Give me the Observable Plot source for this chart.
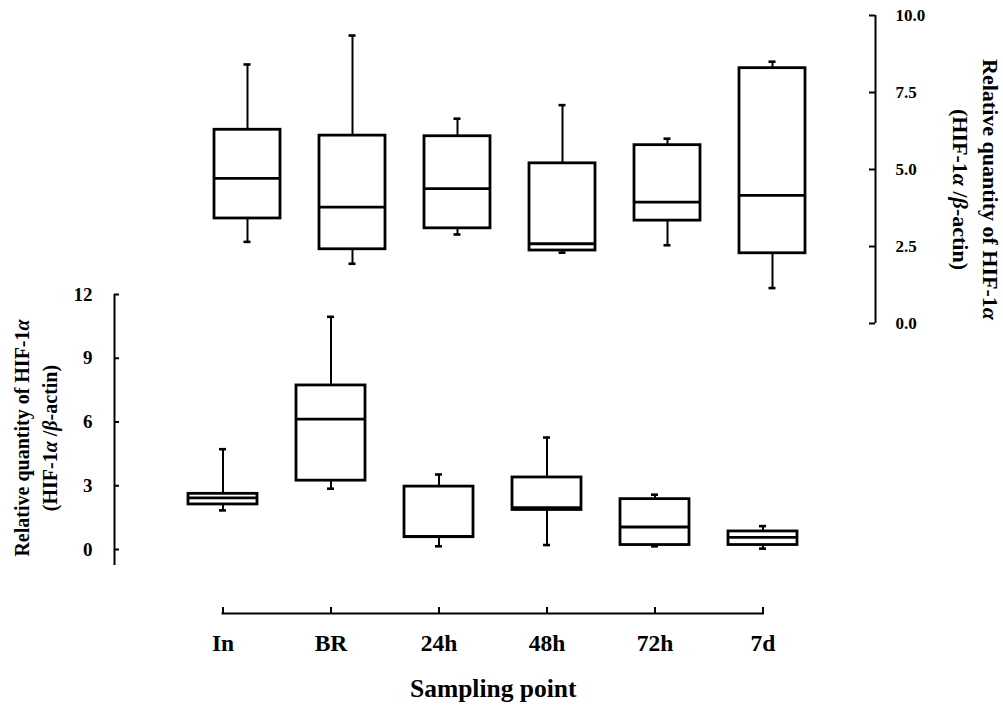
<!DOCTYPE html>
<html><head><meta charset="utf-8">
<script src="https://cdn.jsdelivr.net/npm/d3@7"></script>
<script src="https://cdn.jsdelivr.net/npm/@observablehq/plot@0.6"></script>
<style>
html,body{margin:0;padding:0;background:#fff;overflow:hidden}
#chart{position:relative;width:1003px;height:706px;overflow:hidden;background:#fff}
#chart svg{position:absolute;left:0;top:0;background:transparent !important;max-width:none !important}
</style></head><body><div id="chart"></div>
<script>
// ---- data ----
const categories = ["In", "BR", "24h", "48h", "72h", "7d"];
// upper set (right axis, 0–10)
const topMin = [2.65, 1.94, 2.89, 2.30, 2.54, 1.15];
const topQ1  = [3.41, 2.41, 3.09, 2.37, 3.34, 2.28];
const topMed = [4.71, 3.78, 4.38, 2.59, 3.94, 4.16];
const topQ3  = [6.29, 6.10, 6.08, 5.20, 5.79, 8.29];
const topMax = [8.41, 9.35, 6.65, 7.09, 6.00, 8.50];
// lower set (left axis, 0–12)
const botMin = [1.84, 2.86, 0.15, 0.21, 0.15, 0.04];
const botQ1  = [2.12, 3.24, 0.58, 1.86, 0.21, 0.21];
const botMed = [2.43, 6.14, 0.62, 1.97, 1.06, 0.57];
const botQ3  = [2.62, 7.72, 2.96, 3.39, 2.37, 0.85];
const botMax = [4.72, 10.95, 3.53, 5.27, 2.58, 1.10];
const leftTicks = [0, 3, 6, 9, 12];
const rightTicks = [0, 2.5, 5, 7.5, 10];
const leftTitle = "Relative quantity of HIF-1α\n(HIF-1α /β-actin)";
const rightTitle = "Relative quantity of HIF-1α\n(HIF-1α /β-actin)";
const xTitle = "Sampling point";

// ---- layout ----
const W = 1003, H = 706;
const FONT = '"Liberation Serif","Times New Roman",serif';
const baseStyle = {fontFamily: FONT, fontWeight: "bold", fontSize: "16px", color: "black"};

function rows(mins, q1s, meds, q3s, maxs) {
  return categories.map((c, i) => ({cat: c, min: mins[i], q1: q1s[i], med: meds[i], q3: q3s[i], max: maxs[i]}));
}
const topRows = rows(topMin, topQ1, topMed, topQ3, topMax);
const botRows = rows(botMin, botQ1, botMed, botQ3, botMax);

function boxMarks(data, capInset) {
  return [
    Plot.ruleX(data, {x: "cat", y1: "min", y2: "q1", strokeWidth: 2}),
    Plot.ruleX(data, {x: "cat", y1: "q3", y2: "max", strokeWidth: 2}),
    Plot.tickY(data, {x: "cat", y: "min", strokeWidth: 2.6, insetLeft: capInset, insetRight: capInset}),
    Plot.tickY(data, {x: "cat", y: "max", strokeWidth: 2.6, insetLeft: capInset, insetRight: capInset}),
    Plot.barY(data, {x: "cat", y1: "q1", y2: "q3", fill: "white", stroke: "black", strokeWidth: 2.8}),
    Plot.tickY(data, {x: "cat", y: "med", strokeWidth: 2.8})
  ];
}

const topX = {type: "band", domain: categories, range: [194.5, 824.5], paddingInner: 0.37, paddingOuter: 0.185, axis: null};
const botX = {type: "band", domain: categories, range: [167.25, 818.25], paddingInner: 0.36, paddingOuter: 0.18};

const pTop = Plot.plot({
  width: W, height: H, margin: 0, style: baseStyle,
  x: topX,
  y: {domain: [0, 10], range: [323, 15], axis: null},
  marks: boxMarks(topRows, 29.5)
});

const pBot = Plot.plot({
  width: W, height: H, margin: 0, style: baseStyle,
  x: {...botX, axis: null},
  y: {domain: [0, 12], range: [549, 294], axis: null},
  marks: boxMarks(botRows, 31)
});

const pXAxis = Plot.plot({
  width: W, height: H, marginTop: 607, marginBottom: H - 613, marginLeft: 221.5, marginRight: W - 764,
  style: {...baseStyle, fontSize: "23px"},
  x: botX,
  y: {domain: [0, 1], axis: null},
  marks: [
    Plot.ruleY([0], {strokeWidth: 2}),
    Plot.tickX(categories, {x: d => d, strokeWidth: 2}),
    Plot.axisX({tickSize: 0, tickPadding: 21, label: null, fontSize: 23.5}),
    Plot.text([xTitle], {frameAnchor: "bottom", dy: 75, fontSize: 25.5, lineAnchor: "middle", textAnchor: "middle"})
  ]
});

const pLeft = Plot.plot({
  width: W, height: H, marginLeft: 114, marginRight: W - 119, marginTop: 294, marginBottom: H - 565,
  style: {...baseStyle, fontSize: "19px"},
  x: {domain: [0, 1], axis: null},
  y: {domain: [0, 12], range: [549, 294]},
  marks: [
    Plot.ruleX([0], {strokeWidth: 2}),
    Plot.tickY(leftTicks, {y: d => d, strokeWidth: 2}),
    Plot.axisY({ticks: leftTicks, tickSize: 0, tickPadding: 22, label: null, fontSize: 19}),
    Plot.text([leftTitle], {frameAnchor: "left", dx: -80, dy: 8, rotate: -90, lineHeight: 1.4, fontSize: 20, lineAnchor: "middle", textAnchor: "middle"})
  ]
});

const pRight = Plot.plot({
  width: W, height: H, marginLeft: 869, marginRight: W - 875, marginTop: 15, marginBottom: H - 323,
  style: {...baseStyle, fontSize: "17px"},
  x: {domain: [0, 1], axis: null},
  y: {domain: [0, 10], range: [323, 15]},
  marks: [
    Plot.ruleX([1], {strokeWidth: 2}),
    Plot.tickY(rightTicks, {y: d => d, strokeWidth: 2}),
    Plot.axisY({anchor: "right", ticks: rightTicks, tickFormat: d3.format(".1f"), tickSize: 0, tickPadding: 20, label: null, fontSize: 17}),
    Plot.text([rightTitle], {frameAnchor: "right", dx: 102, dy: 20, rotate: 90, lineHeight: 1.36, fontSize: 22, lineAnchor: "middle", textAnchor: "middle"})
  ]
});

function italicizeGreek(svg) {
  svg.querySelectorAll("text, tspan").forEach(el => {
    for (const node of [...el.childNodes]) {
      if (node.nodeType === 3 && /[αβ]/.test(node.nodeValue)) {
        const frag = document.createDocumentFragment();
        for (const p of node.nodeValue.split(/([αβ])/)) {
          if (!p) continue;
          if (/[αβ]/.test(p)) {
            const t = document.createElementNS("http://www.w3.org/2000/svg", "tspan");
            t.setAttribute("font-style", "italic");
            t.textContent = p;
            frag.appendChild(t);
          } else frag.appendChild(document.createTextNode(p));
        }
        el.replaceChild(frag, node);
      }
    }
  });
}

const chart = document.getElementById("chart");
for (const p of [pTop, pBot, pXAxis, pLeft, pRight]) {
  italicizeGreek(p);
  chart.appendChild(p);
}
</script>
</body></html>
